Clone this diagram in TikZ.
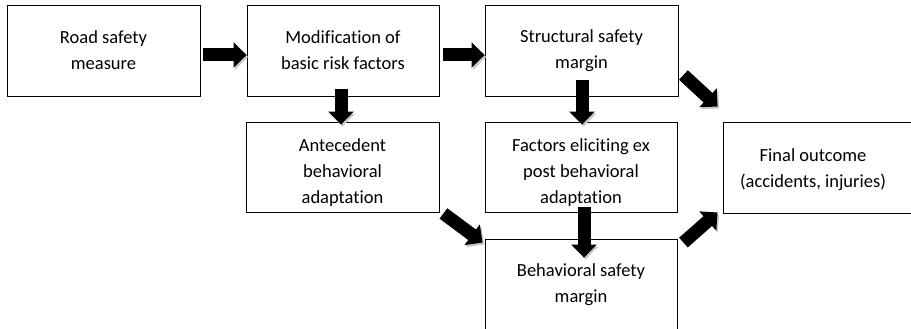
\documentclass[tikz,border=0pt]{standalone}
\usepackage{fontspec}
\setmainfont{Carlito}[Ligatures=NoCommon]
\usetikzlibrary{arrows.meta,calc}
\begin{document}
\begin{tikzpicture}[x=1pt,y=-1pt,
  box/.style={draw=black, line width=0.9pt, fill=white, rectangle, minimum height=90pt,
    inner sep=0pt, align=center, font=\fontsize{18.5pt}{26pt}\selectfont},
  txt/.style={inner sep=0pt, align=center, font=\fontsize{18.5pt}{26pt}\selectfont},
  blockarrow/.style={line width=13pt, draw=black,
    -{Triangle[length=13pt,width=25pt]},
    preaction={draw=black!22, transform canvas={shift={(1.5pt,-2pt)}}}}
]
\useasboundingbox (0,0) rectangle (911,329);
\clip (0,0) rectangle (911,329);
\fill[white] (0,0) rectangle (911,329);

\node[box, minimum width=193pt, minimum height=91pt] (road)   at (103.5,50.5) {Road safety\\measure};
\node[box, minimum width=192pt, minimum height=91pt] (mod)    at (343,50.5)   {Modification of\\basic risk factors};
\node[box, minimum width=193pt, minimum height=91pt] (struct) at (581.5,50.5) {Structural safety\\margin};
\node[box, minimum width=193pt] (ant)    at (342.5,167) {\rule{0pt}{24pt}Antecedent\\behavioral\\adaptation};
\node[box, minimum width=192pt] (fact)   at (581,167)   {\rule{0pt}{24pt}Factors eliciting ex\\post behavioral\\adaptation};
\node[box, minimum width=192pt, minimum height=92pt] (beh) at (581,285) {Behavioral safety\\margin};
\node[box, minimum width=192pt, minimum height=91pt] (final) at (819,167.5) {};
\node[txt] (finaltxt) at (813,169.5) {Final outcome\\(accidents, injuries)};

\draw[blockarrow] ([shift={(3,4.5)}]road.east) -- ([shift={(0,4.5)}]mod.west);
\draw[blockarrow] ([shift={(4,4.5)}]mod.east) -- ([shift={(0,4.5)}]struct.west);
\draw[blockarrow] ([shift={(-2,-7)}]mod.south) -- ([shift={(-1.5,3)}]ant.north);
\draw[blockarrow] ([shift={(0.5,-16)}]struct.south) -- ([shift={(1,3)}]fact.north);
\draw[blockarrow] ([shift={(5,24.5)}]struct.east) -- ([shift={(-5,-15)}]final.north west);
\draw[blockarrow] ([shift={(4,1)}]ant.south east) -- ([shift={(-2,4)}]beh.north west);
\draw[blockarrow] ([shift={(3,-5)}]fact.south) -- ([shift={(3,19)}]beh.north);
\draw[blockarrow] ([shift={(6,4)}]beh.north east) -- ([shift={(-5,-1)}]final.south west);
\end{tikzpicture}
\end{document}
